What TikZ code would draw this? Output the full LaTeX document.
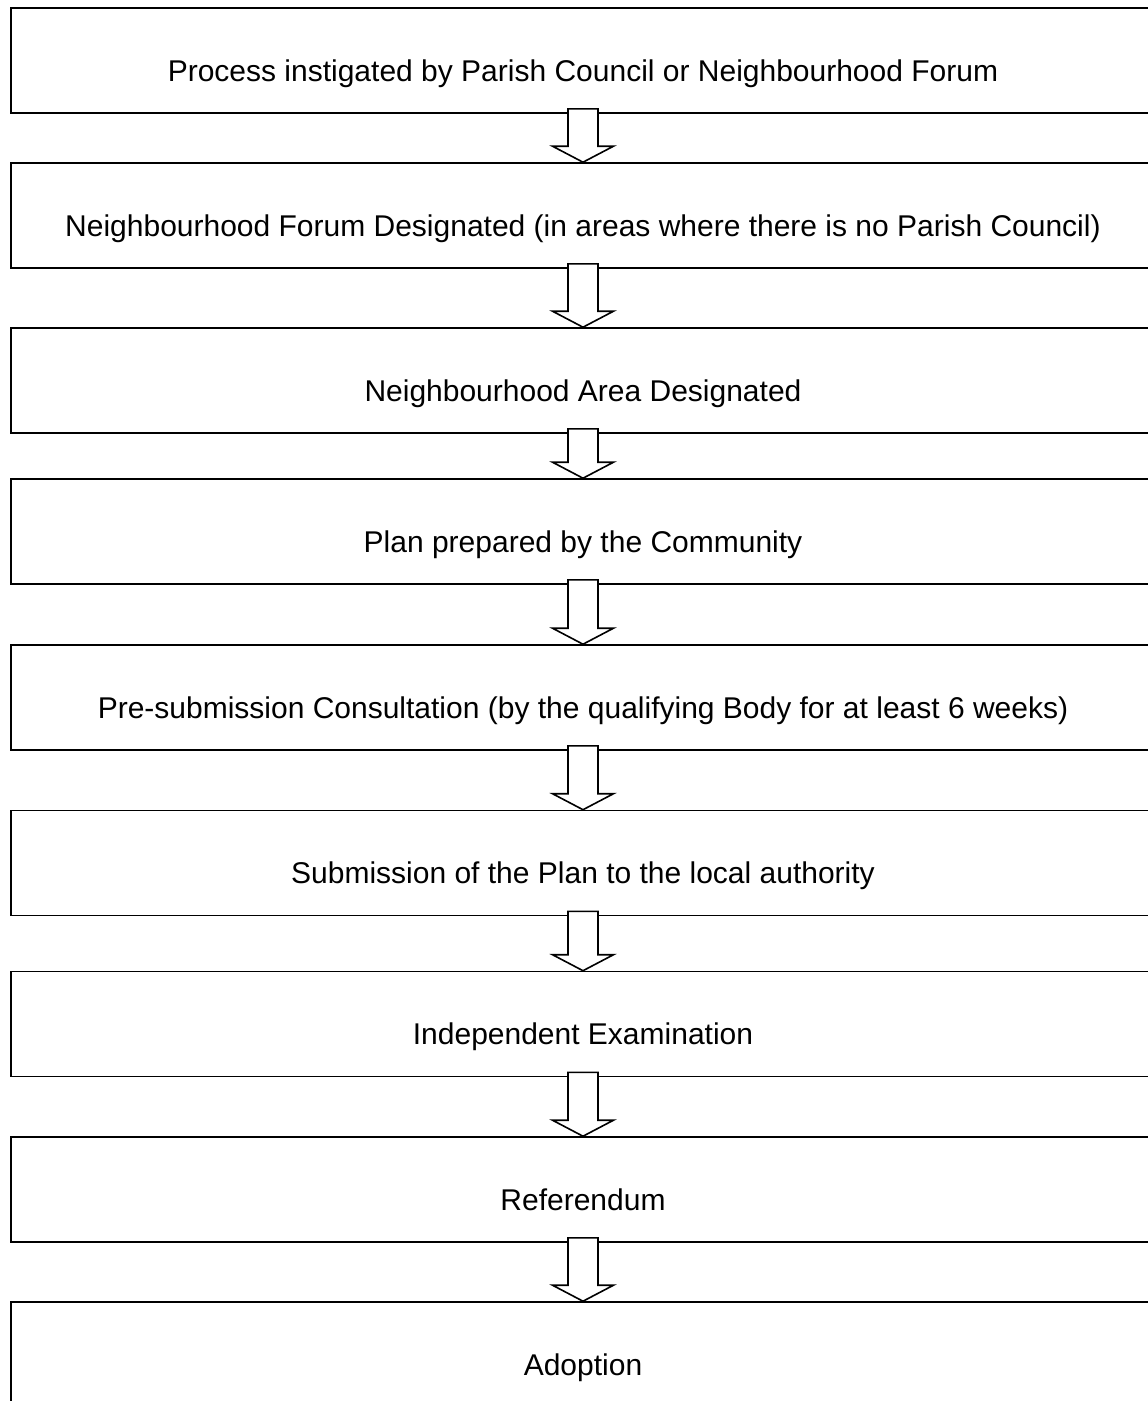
\documentclass[tikz,border=0pt]{standalone}
\usepackage{fontspec}
\setmainfont{Liberation Sans}
\usetikzlibrary{calc}
\begin{document}
\begin{tikzpicture}[x=1pt,y=-1pt,
  stage/.style={draw=black,line width=1.6pt,rectangle,minimum width=1144pt,minimum height=105pt,inner sep=0pt,font=\fontsize{30}{36}\selectfont,fill=white},
  flow/.style={draw=black,line width=1.6pt,fill=white,line join=miter}]
\useasboundingbox (0,0) rectangle (1148,1401);
\newcommand\lowtext[1]{\raisebox{-20.5pt}[0pt][0pt]{#1}}
\node[stage] (b1) at (583,60.5) {\lowtext{Process instigated by Parish Council or Neighbourhood Forum}};
\node[stage] (b2) at (583,215.5) {\lowtext{Neighbourhood Forum Designated (in areas where there is no Parish Council)}};
\node[stage] (b3) at (583,380.5) {\lowtext{Neighbourhood Area Designated}};
\node[stage] (b4) at (583,531.5) {\lowtext{Plan prepared by the Community}};
\node[stage] (b5) at (583,697.5) {\lowtext{Pre-submission Consultation (by the qualifying Body for at least 6 weeks)}};
\node[stage] (b6) at (583,863) {\lowtext{Submission of the Plan to the local authority}};
\node[stage] (b7) at (583,1024) {\lowtext{Independent Examination}};
\node[stage] (b8) at (583,1189.5) {\lowtext{Referendum}};
\node[stage] (b9) at (583,1354.5) {\lowtext{Adoption}};
\newcommand\flowarrow[2]{%
  \draw[flow] ($(#1.south)+(-15,-5)$) -- ($(#2.north)+(-15,-16)$) -- ($(#2.north)+(-30.5,-16)$) -- (#2.north)
    -- ($(#2.north)+(30.5,-16)$) -- ($(#2.north)+(15,-16)$) -- ($(#1.south)+(15,-5)$) -- cycle;}
\flowarrow{b1}{b2}
\flowarrow{b2}{b3}
\flowarrow{b3}{b4}
\flowarrow{b4}{b5}
\flowarrow{b5}{b6}
\flowarrow{b6}{b7}
\flowarrow{b7}{b8}
\flowarrow{b8}{b9}
\end{tikzpicture}
\end{document}
